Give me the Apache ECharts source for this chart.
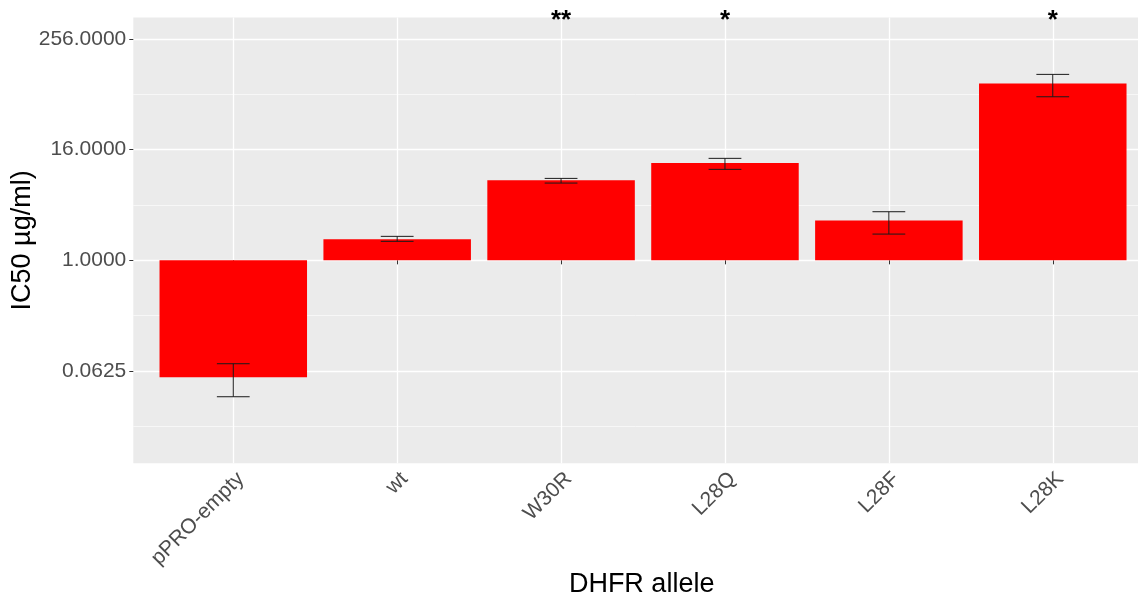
<!DOCTYPE html>
<html>
<head>
<meta charset="utf-8">
<script src="https://cdn.jsdelivr.net/npm/echarts@6/dist/echarts.min.js"></script>
<style>
  html, body { margin: 0; padding: 0; background: #ffffff; }
  #chart { width: 1138px; height: 602px; }
</style>
</head>
<body>
<div id="chart"></div>
<script>
// DHFR alleles and their IC50 (µg/ml), with the error-bar limits
const categories = ['pPRO-empty', 'wt', 'W30R', 'L28Q', 'L28F', 'L28K'];
const ic50 = [0.0534, 1.692, 7.46, 11.44, 2.72, 84.2];
const ic50Low = [0.0328, 1.61, 6.93, 9.77, 1.93, 60.2];
const ic50High = [0.0750, 1.824, 7.79, 12.87, 3.38, 105.5];
const significance = ['', '', '**', '*', '', '*'];
const starLevel = 405;            // height (µg/ml) where the significance marks sit

// y-axis breaks (log2 scale, µg/ml)
const majorTicks = [0.0625, 1, 16, 256];
const minorTicks = [0.015625, 0.25, 4, 64];
const yRange = [0.00619, 438.7];

const L = Math.log2;
const positions = categories.map((_, i) => i + 1);

const font = '"Liberation Sans", Arial, sans-serif';

const chart = echarts.init(document.getElementById('chart'), null, { renderer: 'canvas' });

chart.setOption({
  animation: false,
  backgroundColor: '#ffffff',
  grid: {
    left: 133.3, right: 0, top: 17.5, bottom: 138.7,
    show: true, backgroundColor: '#EBEBEB', borderWidth: 0,
    containLabel: false, outerBoundsMode: 'none'
  },
  xAxis: {
    type: 'value',
    min: 0.39, max: 6.52,
    axisLine: { show: false },
    axisTick: { show: true, length: 4, lineStyle: { color: '#333333', width: 1 }, customValues: positions },
    axisLabel: {
      customValues: positions,
      formatter: v => categories[Math.round(v) - 1],
      rotate: 45, align: 'right', verticalAlign: 'top',
      fontSize: 21, fontFamily: font, color: '#4D4D4D', margin: 5
    },
    splitLine: { show: true, lineStyle: { color: '#ffffff', width: 1.3 } },
    name: 'DHFR allele',
    nameLocation: 'middle', nameGap: 108, nameMoveOverlap: false,
    nameTextStyle: { fontSize: 27, fontFamily: font, color: '#000000', padding: [0, 0, 0, 12] }
  },
  yAxis: [
    {
      type: 'value',
      min: L(yRange[0]), max: L(yRange[1]),
      axisLine: { show: false },
      axisTick: { show: true, length: 4, lineStyle: { color: '#333333', width: 1 }, customValues: majorTicks.map(L) },
      axisLabel: {
        customValues: majorTicks.map(L),
        formatter: v => Math.pow(2, v).toFixed(4),
        fontSize: 21, fontFamily: font, color: '#4D4D4D', margin: 7
      },
      splitLine: { show: true, lineStyle: { color: '#ffffff', width: 1.3 } },
      name: 'IC50 µg/ml)',
      nameLocation: 'middle', nameGap: 97, nameMoveOverlap: false,
      nameTextStyle: { fontSize: 27, fontFamily: font, color: '#000000' }
    },
    {
      type: 'value',
      min: L(yRange[0]), max: L(yRange[1]),
      position: 'left',
      axisLine: { show: false },
      axisTick: { show: false, customValues: minorTicks.map(L) },
      axisLabel: { show: false, customValues: minorTicks.map(L) },
      splitLine: { show: true, lineStyle: { color: '#ffffff', width: 0.6 } }
    }
  ],
  series: [
    {
      type: 'bar',
      yAxisIndex: 0,
      barWidth: '90%',
      itemStyle: { color: '#FF0000' },
      data: positions.map((x, i) => [x, L(ic50[i])]),
      z: 2
    },
    {
      type: 'custom',
      yAxisIndex: 0,
      z: 3,
      encode: { x: 0, y: [1, 2] },
      data: positions.map((x, i) => [x, L(ic50Low[i]), L(ic50High[i])]),
      renderItem(params, api) {
        const x = api.value(0);
        const lo = api.coord([x, api.value(1)]);
        const hi = api.coord([x, api.value(2)]);
        const hw = api.size([0.2, 0])[0] / 2;
        const style = { stroke: '#1a1a1a', lineWidth: 1, fill: null };
        return {
          type: 'group',
          children: [
            { type: 'line', shape: { x1: lo[0], y1: lo[1], x2: hi[0], y2: hi[1] }, style },
            { type: 'line', shape: { x1: lo[0] - hw, y1: lo[1], x2: lo[0] + hw, y2: lo[1] }, style },
            { type: 'line', shape: { x1: hi[0] - hw, y1: hi[1], x2: hi[0] + hw, y2: hi[1] }, style }
          ]
        };
      }
    },
    {
      type: 'custom',
      yAxisIndex: 0,
      z: 4,
      clip: false,
      encode: { x: 0, y: 1 },
      data: positions.map(x => [x, L(starLevel)]),
      renderItem(params, api) {
        const text = significance[params.dataIndex];
        if (!text) return null;
        const p = api.coord([api.value(0), api.value(1)]);
        return {
          type: 'text',
          x: p[0], y: p[1],
          style: {
            text, fill: '#000000',
            fontSize: 26, fontWeight: 'bold', fontFamily: font,
            align: 'center', verticalAlign: 'middle'
          }
        };
      }
    }
  ]
});
</script>
</body>
</html>
